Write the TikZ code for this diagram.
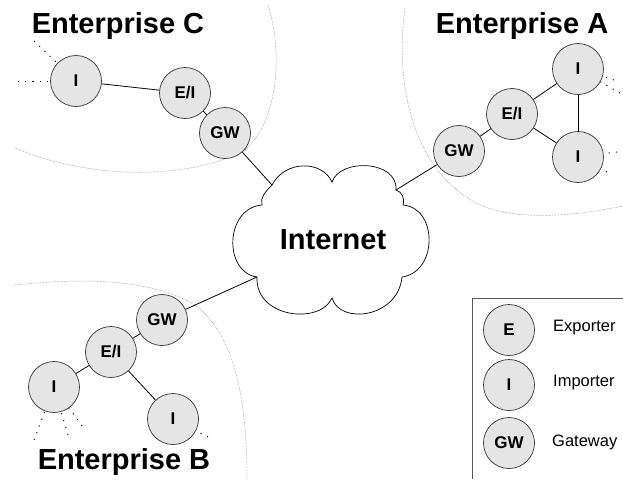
\documentclass[tikz,border=0pt]{standalone}
\usepackage{fontspec}
\setmainfont{Liberation Sans}
\usepackage{tikz}

\tikzset{
  host/.style={circle, draw=black!80, fill=black!10, line width=0.7pt,
    minimum size=51pt, inner sep=0pt, font=\fontsize{17}{17}\selectfont\bfseries},
  link/.style={black, line width=0.8pt},
  stub/.style={black, line width=0.9pt, dash pattern=on 1.2pt off 6pt},
  border line/.style={black!55, line width=0.5pt, densely dotted},
  title/.style={inner sep=0pt, font=\fontsize{29}{32}\selectfont\bfseries},
  legtext/.style={inner sep=0pt, anchor=west, font=\fontsize{16.5}{18}\selectfont}
}

\begin{document}
\begin{tikzpicture}[x=1pt,y=-1pt]
        \useasboundingbox (0,0) rectangle (623,479);
        % enterprise borders
        \draw [border line] (15,148) .. controls (90,180) and (190,180) .. (245,150)
                               .. controls (275,125) and (285,60) .. (268,5);
        \draw [border line] (405,8) .. controls (395,80) and (410,170) .. (480,205)
                               .. controls (520,222) and (580,215) .. (623,206);
        \draw [border line] (15,285) .. controls (80,278) and (150,278) .. (195,305)
                               .. controls (235,335) and (247,400) .. (247,479);
        % internet cloud
        \draw [black, line width=0.7pt, fill=white]
              (332,182) .. controls (322,160) and (285,160) .. (272,185)
              .. controls (265,192) and (260,198) .. (262,205)
              .. controls (225,208) and (223,272) .. (257,277)
              .. controls (255,318) and (320,325) .. (332,298)
              .. controls (340,325) and (398,318) .. (402,277)
              .. controls (438,272) and (438,208) .. (403,205)
              .. controls (405,198) and (402,192) .. (396,190)
              .. controls (398,160) and (340,158) .. (332,182) -- cycle;
        \node [title] (net) at (333,240) {Internet};
        \coordinate (netC) at (272,185);
        \coordinate (netA) at (396,190);
        \coordinate (netB) at (257,277);
        % enterprise C
        \node [title] (entC) at (118,26) {Enterprise C};
        \node [host] (cI) at (76,81) {I};
        \node [host] (cEI) at (185,93) {E/I};
        \node [host] (cGW) at (225,133) {GW};
        \draw [link] (cI) -- (cEI);
        \draw [link] (cEI) -- (cGW);
        \draw [link] (cGW) -- (netC);
        \coordinate (cS1) at (18,81);
        \coordinate (cS2) at (34,41);
        \draw [stub] (cS1) -- (cI);
        \draw [stub] (cS2) -- (cI);
        % enterprise A
        \node [title] (entA) at (522,26) {Enterprise A};
        \node [host] (aGW) at (459,151) {GW};
        \node [host] (aEI) at (512,114) {E/I};
        \node [host] (aI1) at (578,69) {I};
        \node [host] (aI2) at (578,157) {I};
        \draw [link] (aGW) -- (aEI);
        \draw [link] (aEI) -- (aI1);
        \draw [link] (aEI) -- (aI2);
        \draw [link] (aI1) -- (aI2);
        \draw [link] (aGW) -- (netA);
        \coordinate (aS1) at (614,80);
        \coordinate (aS2) at (620,93);
        \coordinate (aS3) at (617,152);
        \coordinate (aS4) at (607,172);
        \draw [stub] (aS1) -- (aI1);
        \draw [stub] (aS2) -- (aI1);
        \draw [stub] (aS3) -- (aI2);
        \draw [stub] (aS4) -- (aI2);
        % enterprise B
        \node [title] (entB) at (124,462) {Enterprise B};
        \node [host] (bGW) at (162,320) {GW};
        \node [host] (bEI) at (111,352) {E/I};
        \node [host] (bI1) at (54,387) {I};
        \node [host] (bI2) at (173,419) {I};
        \draw [link] (bGW) -- (bEI);
        \draw [link] (bEI) -- (bI1);
        \draw [link] (bEI) -- (bI2);
        \draw [link] (bGW) -- (netB);
        \coordinate (bS1) at (34,440);
        \coordinate (bS2) at (68,435);
        \coordinate (bS3) at (82,426);
        \coordinate (bS4) at (208,437);
        \draw [stub] (bS1) -- (bI1);
        \draw [stub] (bS2) -- (bI1);
        \draw [stub] (bS3) -- (bI1);
        \draw [stub] (bS4) -- (bI2);
        % legend
        \draw [black!65, line width=0.7pt] (623,298) -- (472,298) -- (472,479);
        \node [host] (lE) at (509,330) {E};
        \node [host] (lI) at (509,385) {I};
        \node [host] (lGW) at (509,443) {GW};
        \node [legtext] (lEt) at (553,328) {Exporter};
        \node [legtext] (lIt) at (553,383) {Importer};
        \node [legtext] (lGWt) at (552,442) {Gateway};
\end{tikzpicture}
\end{document}
